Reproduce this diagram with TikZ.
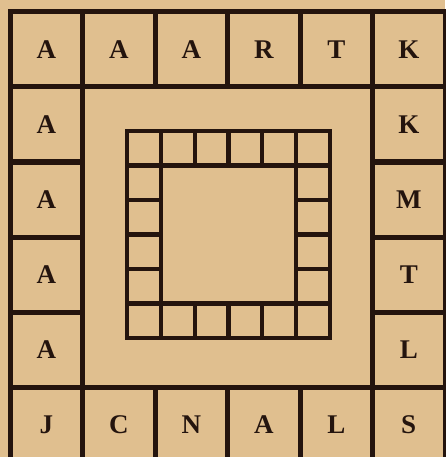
\documentclass[tikz,border=0pt]{standalone}
\usepackage{fontspec}
\setmainfont{Liberation Serif}
\definecolor{Paper}{RGB}{224,191,143}
\definecolor{Ink}{RGB}{36,20,14}

\begin{document}
\begin{tikzpicture}[x=1pt,y=-1pt,line cap=rect,line join=miter,
  cell/.style={rectangle,draw=Ink,line width=5pt,minimum width=72.5pt,minimum height=75pt,inner sep=0pt,text=Ink,font=\bfseries\fontsize{27}{27}\selectfont},
  small/.style={rectangle,draw=Ink,line width=4.2pt,minimum width=33.8pt,minimum height=34.5pt,inner sep=0pt}]
\fill[Paper,use as bounding box] (0,0) rectangle (445,457);
% outer ring, top row
\node[cell] (t1) at (46.25,49.5) {A};
\node[cell] (t2) at (118.75,49.5) {A};
\node[cell] (t3) at (191.25,49.5) {A};
\node[cell] (t4) at (263.75,49.5) {R};
\node[cell] (t5) at (336.25,49.5) {T};
\node[cell] (t6) at (408.75,49.5) {K};
% left and right columns
\node[cell] (l2) at (46.25,124.5) {A};
\node[cell] (l3) at (46.25,199.5) {A};
\node[cell] (l4) at (46.25,274.5) {A};
\node[cell] (l5) at (46.25,349.5) {A};
\node[cell] (r2) at (408.75,124.5) {K};
\node[cell] (r3) at (408.75,199.5) {M};
\node[cell] (r4) at (408.75,274.5) {T};
\node[cell] (r5) at (408.75,349.5) {L};
% bottom row
\node[cell] (b1) at (46.25,424.5) {J};
\node[cell] (b2) at (118.75,424.5) {C};
\node[cell] (b3) at (191.25,424.5) {N};
\node[cell] (b4) at (263.75,424.5) {A};
\node[cell] (b5) at (336.25,424.5) {L};
\node[cell] (b6) at (408.75,424.5) {S};
% inner ring of empty squares
\node[small] (st1) at (143.9,148.25) {};
\node[small] (st2) at (177.7,148.25) {};
\node[small] (st3) at (211.5,148.25) {};
\node[small] (st4) at (245.3,148.25) {};
\node[small] (st5) at (279.1,148.25) {};
\node[small] (st6) at (312.9,148.25) {};
\node[small] (sl2) at (143.9,182.75) {};
\node[small] (sl3) at (143.9,217.25) {};
\node[small] (sl4) at (143.9,251.75) {};
\node[small] (sl5) at (143.9,286.25) {};
\node[small] (sr2) at (312.9,182.75) {};
\node[small] (sr3) at (312.9,217.25) {};
\node[small] (sr4) at (312.9,251.75) {};
\node[small] (sr5) at (312.9,286.25) {};
\node[small] (sb1) at (143.9,320.75) {};
\node[small] (sb2) at (177.7,320.75) {};
\node[small] (sb3) at (211.5,320.75) {};
\node[small] (sb4) at (245.3,320.75) {};
\node[small] (sb5) at (279.1,320.75) {};
\node[small] (sb6) at (312.9,320.75) {};
\end{tikzpicture}
\end{document}
